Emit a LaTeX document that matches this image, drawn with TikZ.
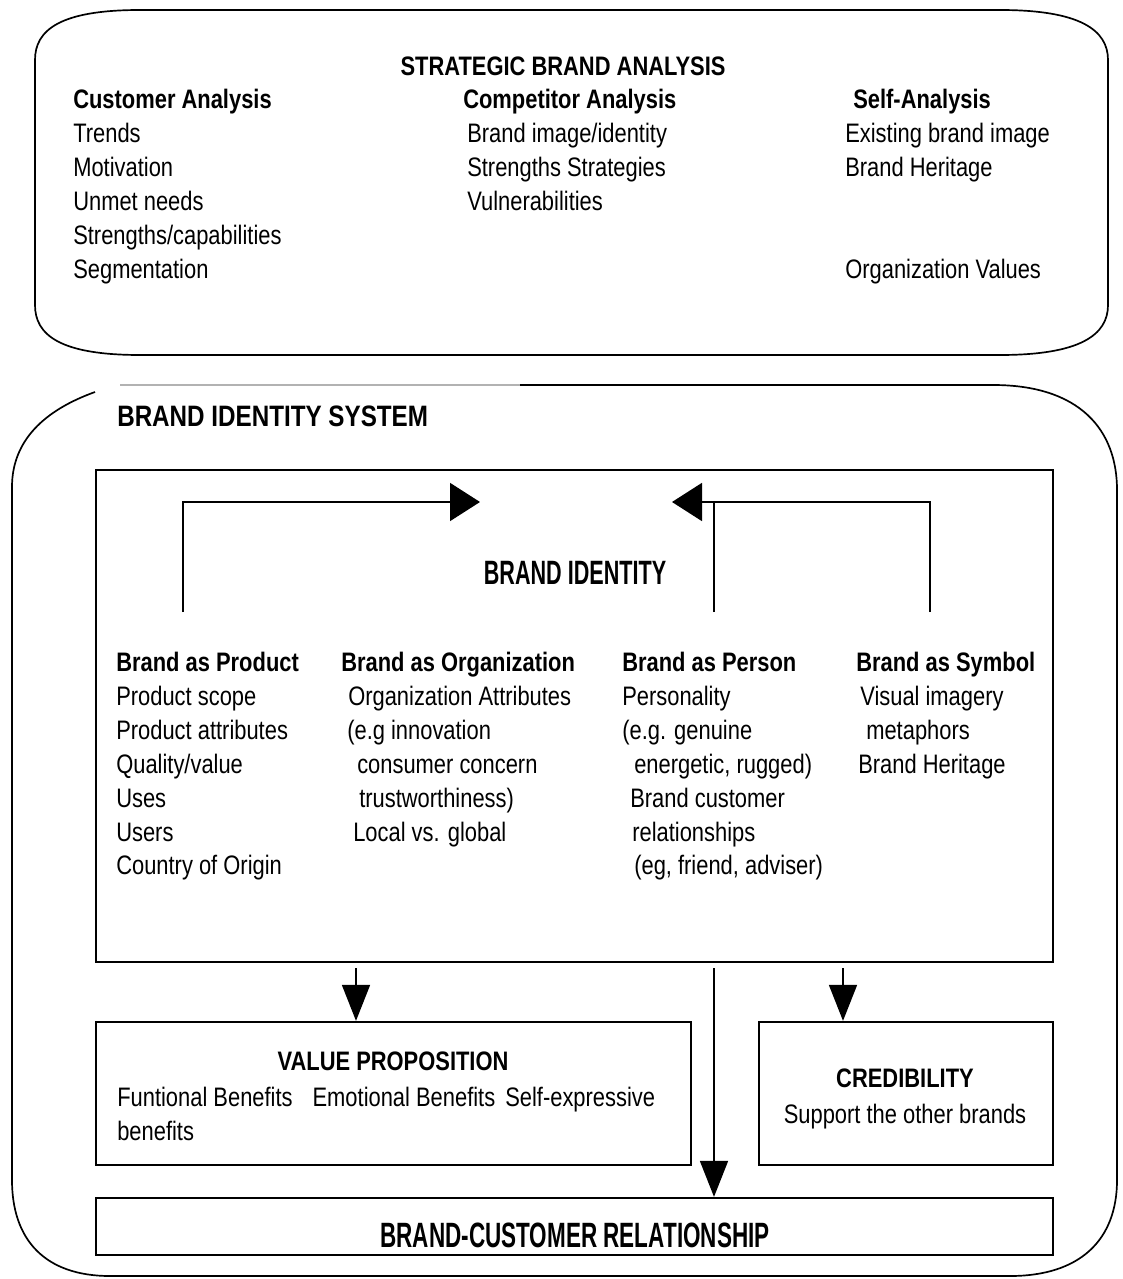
\documentclass[tikz,border=0pt]{standalone}
\usepackage{fontspec}
\setmainfont[FakeStretch=0.82]{Liberation Sans}
\newfontfamily\narrowfont[FakeStretch=0.64]{Liberation Sans}
\usetikzlibrary{arrows.meta}

\begin{document}
\begin{tikzpicture}[x=0.025cm, y=-0.025cm, >={Triangle[length=0.9cm, width=0.7cm]},
  frame/.style={line width=1.2pt},
  box/.style={draw, line width=1.6pt, inner sep=0},
  list/.style={anchor=north west, inner sep=0, align=left,
    font=\fontsize{19}{24.1}\selectfont},
  head/.style={anchor=base, inner sep=0, font=\fontsize{19}{24.1}\selectfont\bfseries},
  big/.style={anchor=base, inner sep=0, font=\narrowfont\fontsize{24}{28}\selectfont\bfseries},
  link/.style={line width=1.2pt},
  wide/.style={-{Triangle[length=0.75cm, width=0.95cm]}}]
\useasboundingbox (0,0) rectangle (1122,1279);

\draw[frame] (140,10) -- (1000,10) .. controls (1080,10) and (1108,30) .. (1108,60)
  -- (1108,305) .. controls (1108,335) and (1080,355) .. (1000,355)
  -- (140,355) .. controls (60,355) and (35,335) .. (35,305)
  -- (35,60) .. controls (35,30) and (60,10) .. (140,10) -- cycle;
\node[head] (sba) at (563,76) {STRATEGIC BRAND ANALYSIS};
\node[list] (cust) at (73,89) {\textbf{Customer Analysis}\\Trends\\Motivation\\Unmet needs\\Strengths/capabilities\\Segmentation};
\node[list] (comp) at (463,89) {\textbf{Competitor Analysis}\\\hspace*{0.1cm}Brand image/identity\\\hspace*{0.1cm}Strengths Strategies\\\hspace*{0.1cm}Vulnerabilities};
\node[list] (self) at (845,89) {\hspace*{0.2cm}\textbf{Self-Analysis}\\Existing brand image\\Brand Heritage\\[48.2pt]Organization Values};

\draw[frame, gray!60] (120,385) -- (520,385);
\draw[frame] (520,385) -- (993,385) .. controls (1080,385) and (1117,430) .. (1117,490)
  -- (1117,1180) .. controls (1117,1240) and (1080,1276) .. (1010,1276)
  -- (110,1276) .. controls (45,1276) and (12,1240) .. (12,1180)
  -- (12,487) .. controls (12,440) and (45,410) .. (95,392);
\node[head, anchor=base west, font=\fontsize{21}{25}\selectfont\bfseries] (bis) at (117,426) {BRAND IDENTITY SYSTEM};

\node[box, minimum width=23.925cm, minimum height=12.3cm] (bid) at (574.5,716) {};
\node[big] (bidt) at (575,584) {BRAND IDENTITY};
\node[list] (prod) at (116,652) {\textbf{Brand as Product}\\Product scope\\Product attributes\\Quality/value\\Uses\\Users\\Country of Origin};
\node[list] (org) at (341,652) {\textbf{Brand as Organization}\\\hspace*{0.175cm}Organization Attributes\\\hspace*{0.15cm}(e.g innovation\\\hspace*{0.4cm}consumer concern\\\hspace*{0.45cm}trustworthiness)\\\hspace*{0.3cm}Local vs. global};
\node[list] (pers) at (622,652) {\textbf{Brand as Person}\\Personality\\(e.g. genuine\\\hspace*{0.3cm}energetic, rugged)\\\hspace*{0.2cm}Brand customer\\\hspace*{0.25cm}relationships\\\hspace*{0.3cm}(eg, friend, adviser)};
\node[list] (sym) at (856,652) {\textbf{Brand as Symbol}\\\hspace*{0.1cm}Visual imagery\\\hspace*{0.25cm}metaphors\\\hspace*{0.05cm}Brand Heritage};

\coordinate (pl) at (183,612);
\coordinate (pm) at (714,612);
\coordinate (pr) at (930,612);
\coordinate (tl) at (480,502);
\coordinate (tr) at (672,502);
\draw[link, wide] (pl) |- (tl);
\draw[link, wide] (pr) |- (tr);
\draw[link] (pm) -- (pm |- tr);

\node[box, minimum width=14.875cm, minimum height=3.575cm] (vp) at (393.5,1093.5) {};
\node[head] (vpt) at (393,1070) {VALUE PROPOSITION};
\node[list] (vpl) at (117,1087) {Funtional Benefits\hspace{0.5cm}Emotional Benefits\hspace{0.25cm}Self-expressive\\benefits};
\node[box, minimum width=7.35cm, minimum height=3.575cm] (cred) at (906,1093.5) {};
\node[head] (credt) at (905,1087) {CREDIBILITY};
\node[head, font=\fontsize{19}{24.1}\selectfont] (credl) at (905,1123) {Support the other brands};
\node[box, minimum width=23.925cm, minimum height=1.425cm] (bcr) at (574.5,1226.5) {};
\node[big, font=\narrowfont\fontsize{25}{29}\selectfont\bfseries] (bcrt) at (575,1247) {BRAND-CUSTOMER RELATIONSHIP};

\coordinate (dl) at (356,968);
\coordinate (dm) at (714,968);
\coordinate (dr) at (843,968);
\draw[link, ->] (dl) -- (dl |- vp.north);
\draw[link, ->] (dr) -- (dr |- cred.north);
\draw[link, ->] (dm) -- (dm |- bcr.north);
\end{tikzpicture}
\end{document}
